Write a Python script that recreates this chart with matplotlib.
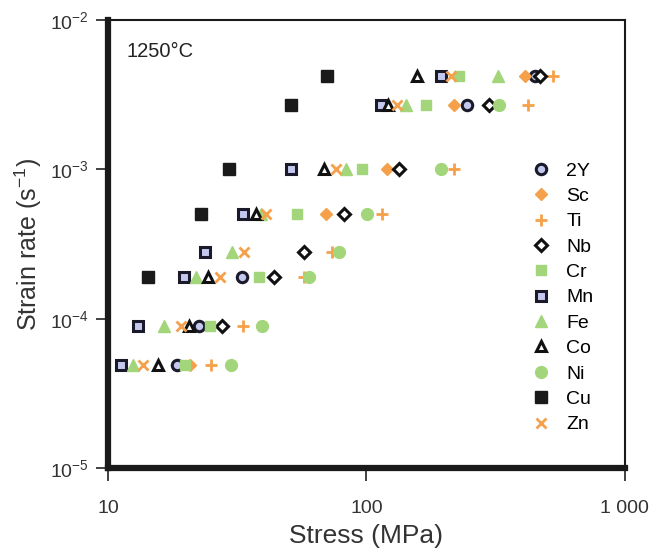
import numpy as np
import matplotlib
matplotlib.use("Agg")
import matplotlib.pyplot as plt
from matplotlib.ticker import FixedLocator, FixedFormatter, NullLocator

plt.rcParams['font.family'] = ['Liberation Sans', 'DejaVu Sans']
plt.rcParams['mathtext.fontset'] = 'custom'
plt.rcParams['mathtext.rm'] = 'Liberation Sans'
plt.rcParams['mathtext.it'] = 'Liberation Sans'

# strain rate levels (s^-1)
rates = [4.2e-3, 2.7e-3, 1.0e-3, 5.0e-4, 2.8e-4, 1.9e-4, 8.9e-5, 4.9e-5]

# stress (MPa), with the matching rates
y2_s = [447, 246, 32.9, 22.4, 18.4]
y2_r = [4.2e-3, 2.7e-3, 1.9e-4, 8.9e-5, 4.9e-5]
sc_s = [409, 219, 120, 69.6, 20.8]
sc_r = [4.2e-3, 2.7e-3, 1.0e-3, 5.0e-4, 4.9e-5]
ti_s = [525, 420, 219, 115, 73.4, 57.2, 33.4, 25.1]
ti_r = rates
nb_s = [468, 299, 134, 81.8, 57.2, 43.8, 27.5]
nb_r = rates[:7]
cr_s = [228, 170, 96.1, 53.7, 38.3, 24.9, 19.9]
cr_r = [4.2e-3, 2.7e-3, 1.0e-3, 5.0e-4, 1.9e-4, 8.9e-5, 4.9e-5]
mn_s = [194, 114, 50.9, 33.4, 23.8, 19.7, 13.1, 11.2]
mn_r = rates
fe_s = [324, 142, 83.3, 38.9, 30.1, 21.8, 16.4, 12.5]
fe_r = rates
co_s = [157, 121, 68.4, 37.2, 24.4, 20.5, 15.6]
co_r = [4.2e-3, 2.7e-3, 1.0e-3, 5.0e-4, 1.9e-4, 8.9e-5, 4.9e-5]
ni_s = [327, 195, 100.5, 78.2, 59.8, 39.3, 30.0]
ni_r = rates[1:]
cu_s = [70.3, 50.9, 29.3, 22.8, 14.3]
cu_r = [4.2e-3, 2.7e-3, 1.0e-3, 5.0e-4, 1.9e-4]
zn_s = [213, 131, 76.2, 40.7, 33.5, 27.2, 19.1, 13.7]
zn_r = rates

orange = '#f5a04a'
green = '#a3d67a'
lav = '#c4c8ee'

fig = plt.figure(figsize=(6.55, 5.56), dpi=100)
ax = fig.add_axes([0.165, 0.158, 0.789, 0.806])

ms = 7.5
ax.plot(y2_s, y2_r, 'o', ms=ms, mfc=lav, mec='#1a1a2a', mew=2.2, ls='none', label='2Y')
ax.plot(sc_s, sc_r, 'D', ms=ms - 1, mfc=orange, mec=orange, ls='none', label='Sc')
ax.plot(ti_s, ti_r, '+', ms=ms + 1, mec=orange, mew=2, ls='none', label='Ti')
ax.plot(nb_s, nb_r, 'D', ms=ms - 1.5, mfc='white', mec='#111111', mew=2.2, ls='none', label='Nb')
ax.plot(cr_s, cr_r, 's', ms=ms, mfc=green, mec=green, ls='none', label='Cr')
ax.plot(mn_s, mn_r, 's', ms=ms, mfc=lav, mec='#1a1a2a', mew=2.2, ls='none', label='Mn')
ax.plot(fe_s, fe_r, '^', ms=ms + 1, mfc=green, mec=green, ls='none', label='Fe')
ax.plot(co_s, co_r, '^', ms=ms, mfc='white', mec='#111111', mew=2.2, ls='none', label='Co')
ax.plot(ni_s, ni_r, 'o', ms=ms + 1, mfc=green, mec=green, ls='none', label='Ni')
ax.plot(cu_s, cu_r, 's', ms=ms + 1, mfc='#1a1a1a', mec='#1a1a1a', ls='none', label='Cu')
ax.plot(zn_s, zn_r, 'x', ms=ms, mec=orange, mew=2, ls='none', label='Zn')

ax.set_xscale('log')
ax.set_yscale('log')
ax.set_xlim(10, 1000)
ax.set_ylim(1e-5, 1e-2)

ax.xaxis.set_major_locator(FixedLocator([10, 100, 1000]))
ax.xaxis.set_major_formatter(FixedFormatter(['10', '100', '1 000']))
ax.xaxis.set_minor_locator(NullLocator())
ax.yaxis.set_major_locator(FixedLocator([1e-5, 1e-4, 1e-3, 1e-2]))
ax.yaxis.set_major_formatter(FixedFormatter([r'$10^{-5}$', r'$10^{-4}$', r'$10^{-3}$', r'$10^{-2}$']))
ax.yaxis.set_minor_locator(NullLocator())

ax.tick_params(direction='out', length=9, width=1.3, colors='#333333', labelsize=14)
ax.tick_params(axis='x', pad=14)
ax.tick_params(axis='y', pad=5)

for side in ['left', 'bottom']:
    ax.spines[side].set_linewidth(4.5)
for side in ['top', 'right']:
    ax.spines[side].set_linewidth(1.5)
for sp in ax.spines.values():
    sp.set_color('#1a1a1a')

ax.set_xlabel('Stress (MPa)', fontsize=19, color='#333333', labelpad=5)
ax.set_ylabel('Strain rate (s$^{-1}$)', fontsize=18, color='#333333', labelpad=4)

ax.text(0.035, 0.95, '1250\u00b0C', transform=ax.transAxes, fontsize=14.5,
        color='#222222', va='top', ha='left')

ax.legend(loc='upper left', bbox_to_anchor=(0.8, 0.705), frameon=False, fontsize=14,
          handletextpad=0.8, labelspacing=0.4, handlelength=1.0, borderpad=0)

fig.savefig('out.png', dpi=100)
